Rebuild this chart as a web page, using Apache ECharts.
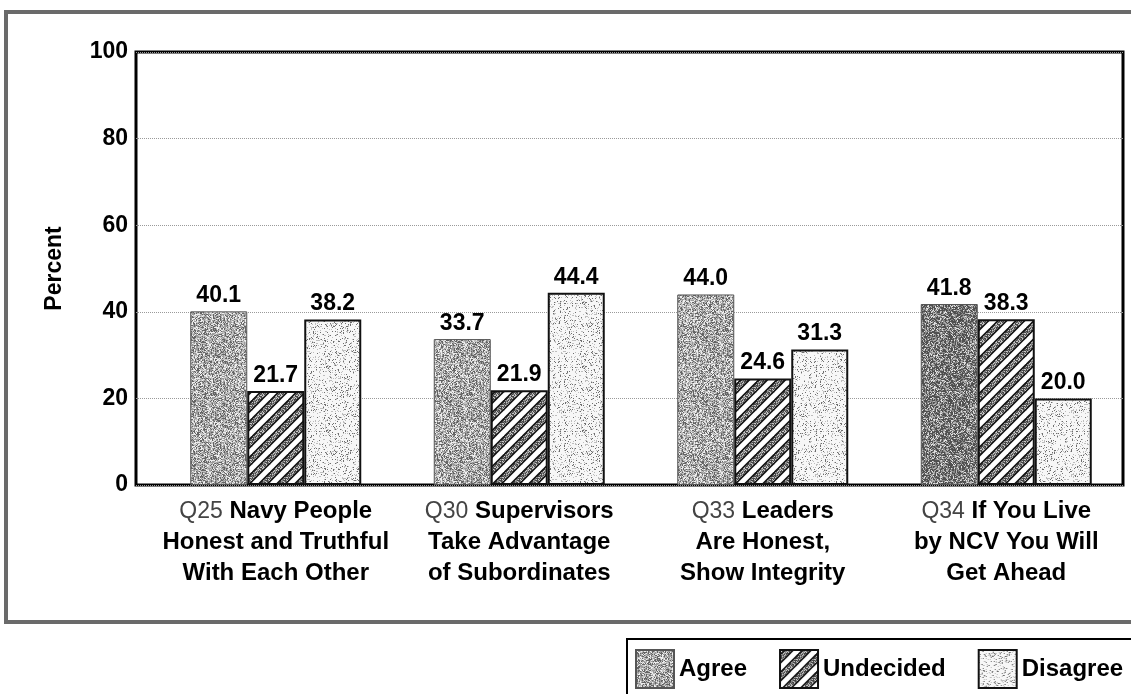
<!DOCTYPE html>
<html>
<head>
<meta charset="utf-8">
<script src="https://cdn.jsdelivr.net/npm/echarts@6/dist/echarts.min.js"></script>
<style>
html,body{margin:0;padding:0;background:#fff;}
#chart{width:1131px;height:694px;}
</style>
</head>
<body>
<div id="chart"></div>
<script>
const categories = [
  'Q25 Navy People\nHonest and Truthful\nWith Each Other',
  'Q30 Supervisors\nTake Advantage\nof Subordinates',
  'Q33 Leaders\nAre Honest,\nShow Integrity',
  'Q34 If You Live\nby NCV You Will\nGet Ahead'
];
const seriesNames = ['Agree', 'Undecided', 'Disagree'];
const agreeValues = [40.1, 33.7, 44.0, 41.8];
const undecidedValues = [21.7, 21.9, 24.6, 38.3];
const disagreeValues = [38.2, 44.4, 31.3, 20.0];
const yTicks = [0, 20, 40, 60, 80, 100];

// deterministic texture generator (for print-like stipple only)
function lcg(seed){ let s = seed >>> 0; return function(){ s = (s * 1664525 + 1013904223) >>> 0; return s / 4294967296; }; }
function stipple(w, h, seed, fn){
  const c = document.createElement('canvas'); c.width = w; c.height = h;
  const ctx = c.getContext('2d');
  const img = ctx.createImageData(w, h); const r = lcg(seed);
  for (let i = 0; i < w * h; i++){ const v = fn(r()); img.data[i*4]=v; img.data[i*4+1]=v; img.data[i*4+2]=v; img.data[i*4+3]=255; }
  ctx.putImageData(img, 0, 0);
  return c;
}
const agreeTex = stipple(64, 64, 7, r => r < 0.25 ? 100 : r < 0.5 ? 155 : r < 0.78 ? 195 : 238);
const agreeDarkTex = stipple(64, 64, 11, r => r < 0.45 ? 80 : r < 0.7 ? 135 : r < 0.9 ? 180 : 225);
const disagreeTex = stipple(64, 64, 23, r => r < 0.07 ? 110 : r < 0.18 ? 190 : 247);
const undecidedTex = (function(){
  const T = 18;
  const c = stipple(T, T, 31, r => r < 0.4 ? 70 : r < 0.7 ? 130 : 200);
  const ctx = c.getContext('2d');
  const ks = [-T, 0, T, 2*T];
  ks.forEach(k => {
    ctx.beginPath(); ctx.moveTo(k + 12, -12); ctx.lineTo(k - 30, 30);
    ctx.strokeStyle = '#111'; ctx.lineWidth = 8; ctx.stroke();
  });
  ks.forEach(k => {
    ctx.beginPath(); ctx.moveTo(k + 12, -12); ctx.lineTo(k - 30, 30);
    ctx.strokeStyle = '#fff'; ctx.lineWidth = 5; ctx.stroke();
  });
  return c;
})();
const pat = c => ({ image: c, repeat: 'repeat' });

const FONT = "'Liberation Sans', Arial, Helvetica, sans-serif";
const chart = echarts.init(document.getElementById('chart'), null, { renderer: 'canvas' });

const labelCfg = {
  show: true, position: 'top', distance: 4, color: '#000',
  fontFamily: FONT, fontWeight: 'bold', fontSize: 23,
  formatter: p => Number(p.value).toFixed(1)
};

function catFormatter(s){
  const lines = s.split('\n');
  return lines.map((ln, i) => {
    if (i === 0) {
      const sp = ln.indexOf(' ');
      return '{q|' + ln.slice(0, sp) + '}{b|' + ln.slice(sp) + '}';
    }
    return '{b|' + ln + '}';
  }).join('\n');
}

chart.setOption({
  animation: false,
  backgroundColor: '#fff',
  grid: [
    { left: 136, right: 8, top: 52, bottom: 209, show: true, borderColor: '#000', borderWidth: 3, backgroundColor: 'transparent' },
    { left: 154, right: 3, top: 52, bottom: 209 }
  ],
  xAxis: [
    { gridIndex: 0, type: 'value', min: 0, max: 1, show: false },
    {
      gridIndex: 1, type: 'category', data: categories,
      axisLine: { show: false }, axisTick: { show: false },
      axisLabel: {
        margin: 11, interval: 0, color: '#000', lineHeight: 31,
        fontFamily: FONT, fontSize: 24, fontWeight: 'bold',
        formatter: catFormatter,
        rich: {
          q: { fontFamily: FONT, fontSize: 23, fontWeight: 'normal', color: '#444', lineHeight: 31 },
          b: { fontFamily: FONT, fontSize: 24, fontWeight: 'bold', color: '#000', lineHeight: 31 }
        }
      }
    }
  ],
  yAxis: [
    {
      gridIndex: 0, type: 'value', min: yTicks[0], max: yTicks[yTicks.length - 1], interval: yTicks[1] - yTicks[0],
      name: 'Percent', nameLocation: 'middle', nameGap: 70, nameRotate: 90,
      nameTextStyle: { fontFamily: FONT, fontSize: 23, fontWeight: 'bold', color: '#000' },
      axisLine: { show: false }, axisTick: { show: false },
      axisLabel: { margin: 8, color: '#000', fontFamily: FONT, fontSize: 23, fontWeight: 'bold', padding: [0, 0, 10, 0] },
      splitLine: { show: true, lineStyle: { color: '#9a9a9a', type: 'dotted', width: 1 } }
    },
    { gridIndex: 1, type: 'value', min: yTicks[0], max: yTicks[yTicks.length - 1], show: false, splitLine: { show: false } }
  ],
  legend: {
    left: 627, top: 639, width: 560, orient: 'horizontal',
    data: seriesNames,
    icon: 'rect', itemWidth: 38, itemHeight: 38, itemGap: 32,
    borderColor: '#000', borderWidth: 2, padding: [10, 40, 10, 8],
    textStyle: { fontFamily: FONT, fontSize: 24, fontWeight: 'bold', color: '#000' }
  },
  graphic: [
    { type: 'rect', silent: true, z: -10, shape: { x: 6, y: 12, width: 1300, height: 610 },
      style: { fill: 'none', stroke: '#6a6a6a', lineWidth: 4 } }
  ],
  series: [
    {
      name: seriesNames[0], type: 'bar', xAxisIndex: 1, yAxisIndex: 1,
      barWidth: 57, barGap: '0%',
      data: agreeValues.map((v, i) => i === 3 ? { value: v, itemStyle: { color: pat(agreeDarkTex) } } : v),
      itemStyle: { color: pat(agreeTex), borderColor: '#555', borderWidth: 1 },
      label: labelCfg
    },
    {
      name: seriesNames[1], type: 'bar', xAxisIndex: 1, yAxisIndex: 1,
      barWidth: 57, barGap: '0%',
      data: undecidedValues,
      itemStyle: { color: pat(undecidedTex), borderColor: '#111', borderWidth: 2 },
      label: labelCfg
    },
    {
      name: seriesNames[2], type: 'bar', xAxisIndex: 1, yAxisIndex: 1,
      barWidth: 57, barGap: '0%',
      data: disagreeValues,
      itemStyle: { color: pat(disagreeTex), borderColor: '#111', borderWidth: 2 },
      label: labelCfg
    }
  ]
});
</script>
</body>
</html>
